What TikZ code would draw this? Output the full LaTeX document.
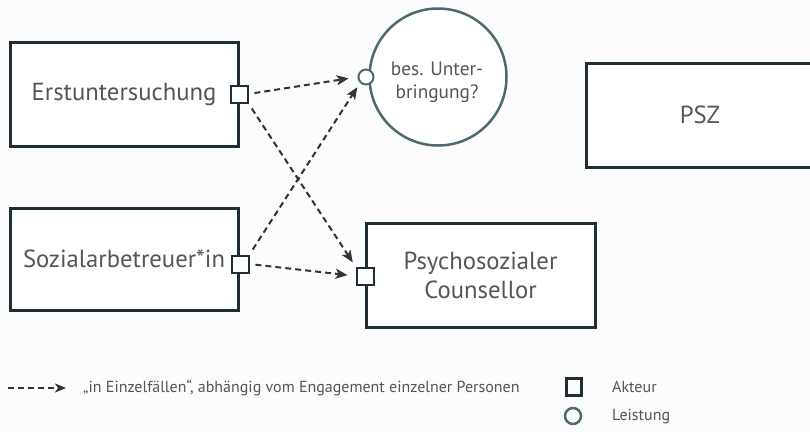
\documentclass[tikz,border=0pt]{standalone}
\usepackage{fontspec}
\setmainfont{PT Sans}
\usetikzlibrary{arrows.meta}
\definecolor{dk}{HTML}{1F2D35}
\definecolor{tl}{HTML}{4E6970}
\definecolor{tx}{HTML}{555555}
\definecolor{ar}{HTML}{333333}
\tikzset{
  actor/.style={draw=dk, line width=3pt, fill=white, text=tx, font=\fontsize{24.7}{29}\selectfont, align=center, inner sep=0pt},
  portsq/.style={draw=dk, line width=2pt, fill=white, minimum size=17pt, inner sep=0pt},
  portci/.style={circle, draw=tl, line width=2pt, fill=white, minimum size=15pt, inner sep=0pt},
  flow/.style={draw=ar, line width=2pt, dash pattern=on 6pt off 4pt, -{Stealth[length=12pt,width=10pt,inset=3pt]}},
  legtext/.style={text=tx, font=\fontsize{16}{19}\selectfont, anchor=west, inner sep=0pt}
}
\begin{document}
\begin{tikzpicture}[x=1pt,y=-1pt]
\useasboundingbox (0,0) rectangle (810,432);
\clip (0,0) rectangle (810,432);
\fill[white!98!gray] (0,0) rectangle (810,432);
% service circle
\node[circle, draw=tl, line width=2.5pt, fill=white, minimum size=137pt, inner sep=0pt] (C) at (438,77) {};
\node[text=tx, font=\fontsize{19.3}{23}\selectfont, align=center, inner sep=0pt] (Ct) at (437,82) {bes. Unter-\\bringung?};
% actors
\node[actor, minimum width=228pt, minimum height=104pt] (E) at (124,94) {Erstuntersuchung};
\node[actor, minimum width=228pt, minimum height=102pt] (S) at (124,259) {\raisebox{-5pt}{Sozialarbetreuer*in}};
\node[actor, minimum width=229pt, minimum height=104pt] (P) at (480.5,275) {Psychosozialer\\Counsellor};
\node[actor, minimum width=228pt, minimum height=104pt] (Z) at (700,115) {\raisebox{-6pt}{PSZ}};
% ports
\node[portsq] (pE) at (239,94) {};
\node[portsq] (pS) at (240,264) {};
\node[portsq] (pP) at (365,276) {};
\node[portci] (pC) at (366,77) {};
% flows
\draw[flow, shorten <=6pt, shorten >=9pt] (pE.east) -- (pC.west);
\draw[flow, shorten <=6pt, shorten >=5pt] (pE.south east) -- (pP.north west);
\draw[flow, shorten <=6pt, shorten >=5pt] (pS.north east) -- (pC.south west);
\draw[flow, shorten <=6pt, shorten >=8pt] (pS.east) -- (pP.west);
% legend
\coordinate (la) at (8,388);
\coordinate (lb) at (66,388);
\draw[flow, -{Stealth[length=11pt,width=9pt,inset=3pt]}] (la) -- (lb);
\node[legtext] (lt) at (83,388) {„in Einzelfällen“, abhängig vom Engagement einzelner Personen};
\node[draw=dk, line width=3pt, minimum width=15pt, minimum height=17pt, inner sep=0pt] (lsq) at (573.5,387) {};
\node[circle, draw=tl, line width=2.5pt, minimum size=16pt, inner sep=0pt] (lci) at (573,416) {};
\node[legtext] (lak) at (612,387) {Akteur};
\node[legtext] (lle) at (612,417) {Leistung};
\end{tikzpicture}
\end{document}
